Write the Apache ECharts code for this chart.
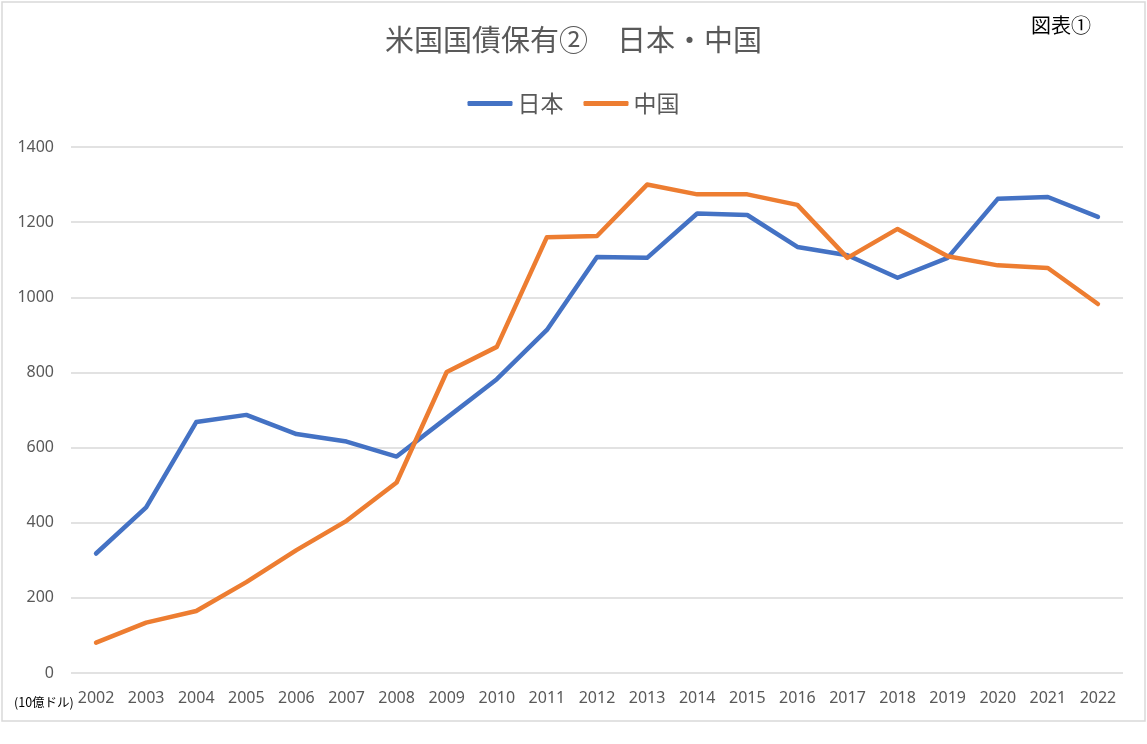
<!DOCTYPE html>
<html><head><meta charset="utf-8">
<script src="https://cdn.jsdelivr.net/npm/echarts@6/dist/echarts.min.js"></script>
<style>html,body{margin:0;padding:0;background:#fff}#c{width:1147px;height:744px}</style>
</head><body><div id="c"></div>
<script>
const years = ['2002','2003','2004','2005','2006','2007','2008','2009','2010','2011','2012','2013','2014','2015','2016','2017','2018','2019','2020','2021','2022'];
const japan = [318,441,668,687,636,616,576,679,782,913,1107,1105,1223,1219,1134,1112,1052,1105,1262,1267,1214];
const china = [81,134,165,242,327,405,507,801,868,1160,1163,1300,1274,1274,1246,1105,1182,1109,1085,1078,982];
const yTicks = {min:0, max:1400, interval:200};
const font = '"Noto Sans CJK JP", sans-serif';
const numFont = '"Noto Sans", "Open Sans", sans-serif';
const chart = echarts.init(document.getElementById('c'));
chart.setOption({
  animation:false,
  textStyle:{fontFamily:font},
  title:{text:'米国国債保有②　日本・中国', left:'center', top:20, textStyle:{fontFamily:font, fontSize:29, fontWeight:'normal', color:'#595959'}},
  legend:{top:87, left:'center', icon:'roundRect', itemWidth:45, itemHeight:5, itemGap:20, textStyle:{fontFamily:font, fontSize:23, color:'#595959'}, data:['日本','中国']},
  grid:{left:71, right:24, top:147, bottom:71, containLabel:false},
  xAxis:{type:'category', data:years, boundaryGap:true, axisLine:{show:false}, axisTick:{show:false}, axisLabel:{fontFamily:numFont, fontSize:16, color:'#595959', margin:17}},
  yAxis:{type:'value', min:yTicks.min, max:yTicks.max, interval:yTicks.interval, axisLine:{show:false}, axisTick:{show:false}, splitLine:{lineStyle:{color:'#d9d9d9', width:1.5}}, axisLabel:{fontFamily:numFont, fontSize:16, color:'#595959', margin:17, formatter:v=>String(v)}},
  graphic:[
    {type:'rect', shape:{x:2, y:2, width:1143, height:719}, style:{fill:'none', stroke:'#d9d9d9', lineWidth:1.5}, silent:true},
    {type:'text', left:1031, top:15, style:{text:'図表①', fontFamily:font, fontSize:20, fill:'#000'}},
    {type:'text', left:14, top:696, style:{text:'(10億ドル)', fontFamily:font, fontSize:12.5, fill:'#000'}}
  ],
  series:[
    {name:'日本', type:'line', data:japan, symbol:'none', lineStyle:{color:'#4472C4', width:4.5, cap:'round', join:'round'}, itemStyle:{color:'#4472C4'}},
    {name:'中国', type:'line', data:china, symbol:'none', lineStyle:{color:'#ED7D31', width:4.5, cap:'round', join:'round'}, itemStyle:{color:'#ED7D31'}}
  ]
});
</script></body></html>
